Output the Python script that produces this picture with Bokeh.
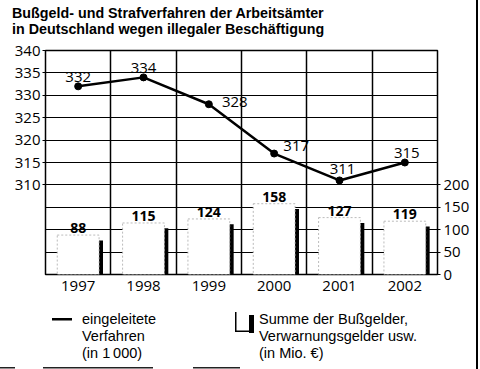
from bokeh.plotting import figure
from bokeh.models import Range1d, LinearAxis, FixedTicker, ColumnDataSource, Div
from bokeh.layouts import column
from bokeh.core.properties import value
from bokeh.embed import file_html
from bokeh.resources import INLINE

# ---- data ----
years = [1997, 1998, 1999, 2000, 2001, 2002]
cases = [332, 334, 328, 317, 311, 315]          # eingeleitete Verfahren (in 1000)
fines = [88, 115, 124, 158, 127, 119]           # Summe der Bußgelder (in Mio. €)
left_ticks = [310, 315, 320, 325, 330, 335, 340]
right_ticks = [0, 50, 100, 150, 200]
title_lines = ["Bußgeld- und Strafverfahren der Arbeitsämter",
               "in Deutschland wegen illegaler Beschäftigung"]
legend_line_text = ["eingeleitete", "Verfahren", "(in 1\u2009000)"]
legend_bar_text = ["Summe der Bußgelder,", "Verwarnungsgelder usw.", "(in Mio. €)"]

FONT = value("Open Sans")
W = 480


def svg_lines(lines, x, ys, size, weight="normal"):
    return "".join(
        f'<text x="{x}" y="{y}" dominant-baseline="central" '
        f'style="font-family:\'Liberation Sans\';font-size:{size}px;font-weight:{weight};fill:black;">'
        f'{t}</text>'
        for t, y in zip(lines, ys))


# ---- title ----
title_svg = (f'<svg width="{W}" height="40" xmlns="http://www.w3.org/2000/svg">'
             + svg_lines(title_lines, 12, [13, 29], 14.3, "bold") + '</svg>')
title = Div(text=title_svg, width=W, height=40, margin=0)

# ---- main chart ----
p = figure(width=W, height=262, x_range=Range1d(1996.5, 2002.5), y_range=Range1d(290, 340),
           output_backend="svg", toolbar_location=None,
           min_border_left=45, min_border_right=43, min_border_top=10, min_border_bottom=28,
           outline_line_color="black", outline_line_width=1.5, margin=0,
           border_fill_color=None, background_fill_color="white")
p.extra_y_ranges = {"bars": Range1d(0, 500)}

p.xaxis.ticker = FixedTicker(ticks=years)
p.xaxis.axis_line_color = None
p.xaxis.major_tick_line_color = None
p.xaxis.major_tick_in = 0
p.xaxis.major_tick_out = 0
p.xaxis.minor_tick_line_color = None
p.xaxis.major_label_standoff = 6
p.xaxis.major_label_text_font = "Open Sans"
p.xaxis.major_label_text_font_size = "15px"
p.xaxis.major_label_text_color = "black"

p.yaxis.ticker = FixedTicker(ticks=left_ticks)
p.yaxis.axis_line_color = None
p.yaxis.major_tick_in = 0
p.yaxis.major_tick_out = 3
p.yaxis.major_tick_line_color = "black"
p.yaxis.minor_tick_line_color = None
p.yaxis.major_label_standoff = 2
p.yaxis.major_label_text_font = "Open Sans"
p.yaxis.major_label_text_font_size = "15px"
p.yaxis.major_label_text_color = "black"

ra = LinearAxis(y_range_name="bars", ticker=FixedTicker(ticks=right_ticks))
ra.axis_line_color = None
ra.major_tick_in = 0
ra.major_tick_out = 3
ra.minor_tick_line_color = None
ra.major_label_standoff = 3
ra.major_label_text_font = "Open Sans"
ra.major_label_text_font_size = "15px"
ra.major_label_text_color = "black"
p.add_layout(ra, "right")

p.xgrid.ticker = FixedTicker(ticks=[y + 0.5 for y in years[:-1]])
p.xgrid.grid_line_color = "black"
p.xgrid.grid_line_width = 1.5
p.ygrid.ticker = FixedTicker(ticks=[295, 300, 305] + left_ticks[:-1])
p.ygrid.grid_line_color = "black"
p.ygrid.grid_line_width = 1

# bars: black shadow + white face
p.quad(left=[y + 0.31 for y in years], right=[y + 0.38 for y in years],
       top=[f - 12 for f in fines], bottom=[0] * len(fines),
       y_range_name="bars", fill_color="black", line_color=None)
p.vbar(x=years, width=0.64, top=fines, bottom=0, y_range_name="bars",
       fill_color="white", line_color="#aaaaaa", line_dash="2 2", line_width=0.8)
p.text(x=years, y=fines, text=[str(f) for f in fines], y_range_name="bars",
       text_font=FONT, text_font_size="14px", text_font_style="bold",
       text_align="center", text_baseline="bottom", y_offset=-2, text_color="black")

# line
p.line(years, cases, line_color="black", line_width=2.5)
p.scatter(years, cases, size=7, fill_color="black", line_color="black")
src = ColumnDataSource(dict(x=years, y=cases, t=[str(c) for c in cases],
                            dx=[0, 0, 26, 22, 3, 2], dy=[-4, -4, 3, -3, -6, -5]))
p.text(x="x", y="y", text="t", x_offset="dx", y_offset="dy", source=src,
       text_font=FONT, text_font_size="15px", text_align="center",
       text_baseline="bottom", text_color="black")

# ---- legend ----
legend_svg = (
    f'<svg width="{W}" height="67" xmlns="http://www.w3.org/2000/svg">'
    '<rect x="52" y="16" width="20" height="2.5" fill="black"/>'
    + svg_lines(legend_line_text, 82, [17, 34, 51], 14.5) +
    '<rect x="235" y="10" width="1.5" height="20" fill="black"/>'
    '<rect x="235" y="28.5" width="16" height="1.5" fill="black"/>'
    '<rect x="249" y="13" width="5" height="18" fill="black"/>'
    + svg_lines(legend_bar_text, 259, [17, 34, 51], 14.5) +
    '<rect x="0" y="65" width="15" height="1.5" fill="#222"/>'
    '<rect x="43" y="65" width="110" height="1.5" fill="#222"/>'
    '<rect x="193" y="65" width="47" height="1.5" fill="#222"/>'
    '</svg>'
)
legend = Div(text=legend_svg, width=W, height=67, margin=0)

layout = column(title, p, legend, spacing=0,
                styles={"background": "linear-gradient(to right, transparent 476px, black 476px, "
                                      "black 478px, transparent 478px)"})
open("out.html", "w").write(file_html(layout, INLINE))
